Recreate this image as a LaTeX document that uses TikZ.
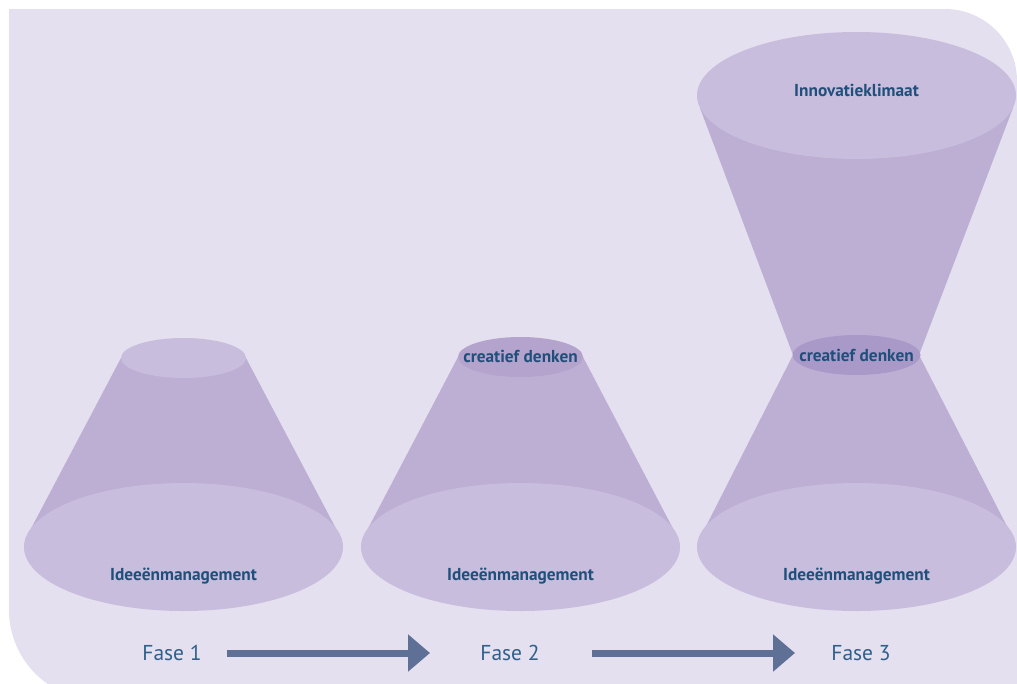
\documentclass[tikz,border=0pt]{standalone}
\usepackage{fontspec}
\setmainfont{PT Sans}
\usetikzlibrary{arrows.meta}
\definecolor{bgc}{HTML}{E4E0EF}
\definecolor{bodyc}{HTML}{BDAFD4}
\definecolor{ellc}{HTML}{C8BDDD}
\definecolor{midc}{HTML}{B4A4CD}
\definecolor{midd}{HTML}{A999C8}
\definecolor{txtc}{HTML}{1F4F7A}
\definecolor{fasec}{HTML}{2F5F8A}
\definecolor{arrc}{HTML}{5F7096}
\tikzset{
  conebody/.style={fill=bodyc, draw=none},
  lightell/.style={fill=ellc, draw=none},
  darkell/.style={fill=midc, draw=none},
  darkerell/.style={fill=midd, draw=none},
  lbl/.style={text=txtc, font=\bfseries\fontsize{17.3}{19}\selectfont, inner sep=0pt},
  faselbl/.style={text=fasec, font=\fontsize{21.5}{24}\selectfont, inner sep=0pt},
  phasearrow/.style={draw=arrc, line width=7pt, -{Triangle[length=22pt,width=36pt]}}
}
\begin{document}
\begin{tikzpicture}[x=1pt,y=-1pt]
\useasboundingbox (0,0) rectangle (1017,683);
\clip (0,0) rectangle (1017,683);
% background
\fill[bgc] (9,9) -- (945,9) arc[start angle=270, end angle=360, radius=72] -- (1017,700)
  -- (99,700) arc[start angle=90, end angle=180, radius=90] -- cycle;

% Cone 1
\fill[conebody] (121,358) -- (246,358) -- (342,540) -- (25,540) -- cycle;
\fill[lightell] (183.5,547) ellipse[x radius=159.5, y radius=64];
\fill[lightell] (183.5,358) ellipse[x radius=62.5, y radius=20];
\node[lbl] (i1) at (183.5,576) {Ideeënmanagement};

% Cone 2
\fill[conebody] (458,357) -- (583,357) -- (679,540) -- (362,540) -- cycle;
\fill[lightell] (520.5,547) ellipse[x radius=159.5, y radius=64];
\fill[darkell] (520.5,357) ellipse[x radius=62.5, y radius=20];
\node[lbl] (c2) at (520.5,356) {creatief denken};
\node[lbl] (i2) at (520.5,576) {Ideeënmanagement};

% Cone 3
\fill[conebody] (700,108) -- (1013,108) -- (919,355) -- (1014,540) -- (699,540) -- (793,355) -- cycle;
\fill[lightell] (856.5,547) ellipse[x radius=159.5, y radius=64];
\fill[lightell] (856.5,95.5) ellipse[x radius=159.5, y radius=63.5];
\fill[darkerell] (856.5,355) ellipse[x radius=64, y radius=20];
\node[lbl] (c3) at (856.5,355) {creatief denken};
\node[lbl] (ik) at (856.5,90) {Innovatieklimaat};
\node[lbl] (i3) at (856.5,576) {Ideeënmanagement};

% Phases
\node[faselbl] (f1) at (172,653) {Fase 1};
\node[faselbl] (f2) at (510,653) {Fase 2};
\node[faselbl] (f3) at (861,653) {Fase 3};
\draw[phasearrow] ([xshift=55pt]f1.center) -- ([xshift=-80pt]f2.center);
\draw[phasearrow] ([xshift=82pt]f2.center) -- ([xshift=-66pt]f3.center);
\end{tikzpicture}
\end{document}
